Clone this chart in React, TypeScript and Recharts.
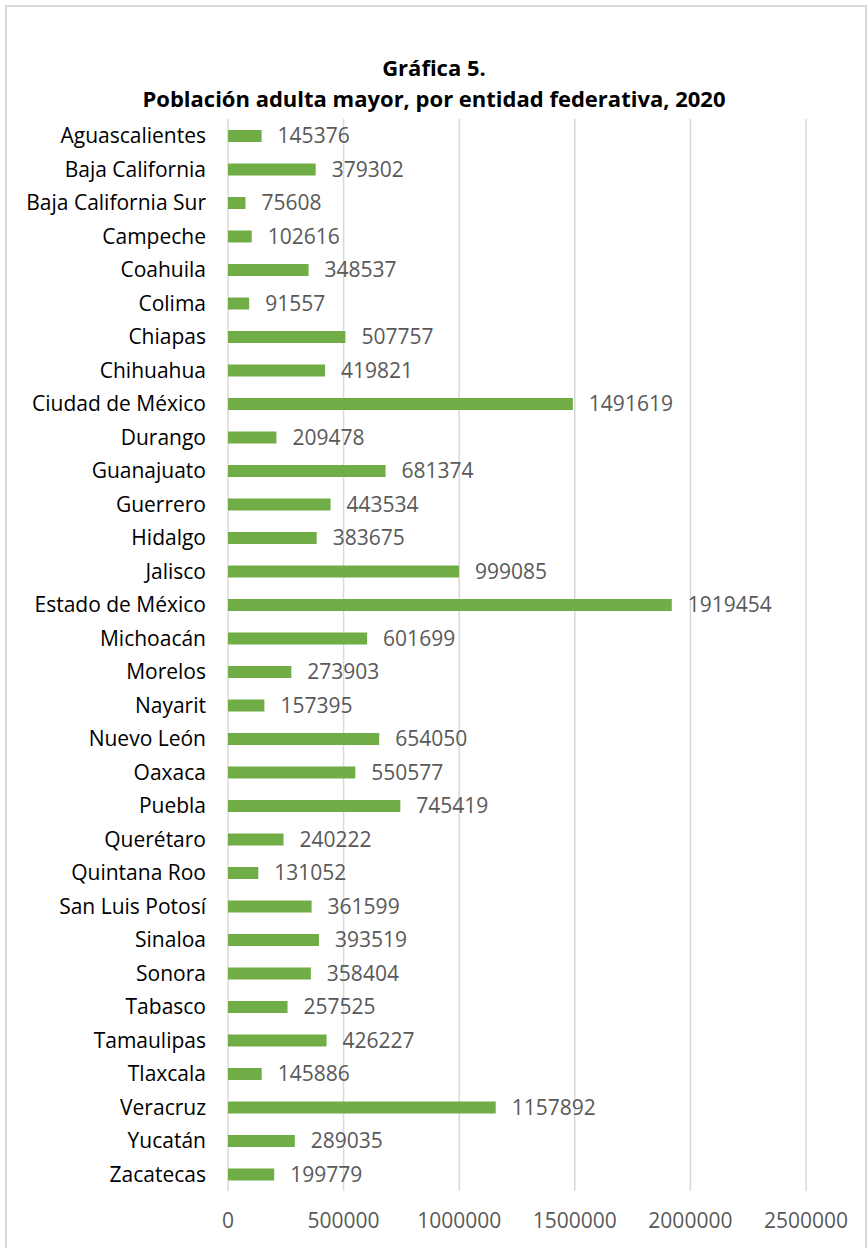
import React from "react";
import { BarChart, Bar, XAxis, YAxis, CartesianGrid, LabelList } from "recharts";

const ENTIDADES = [
  "Aguascalientes",
  "Baja California",
  "Baja California Sur",
  "Campeche",
  "Coahuila",
  "Colima",
  "Chiapas",
  "Chihuahua",
  "Ciudad de México",
  "Durango",
  "Guanajuato",
  "Guerrero",
  "Hidalgo",
  "Jalisco",
  "Estado de México",
  "Michoacán",
  "Morelos",
  "Nayarit",
  "Nuevo León",
  "Oaxaca",
  "Puebla",
  "Querétaro",
  "Quintana Roo",
  "San Luis Potosí",
  "Sinaloa",
  "Sonora",
  "Tabasco",
  "Tamaulipas",
  "Tlaxcala",
  "Veracruz",
  "Yucatán",
  "Zacatecas",
];

const POBLACION = [
  145376, 379302, 75608, 102616, 348537, 91557, 507757, 419821, 1491619, 209478,
  681374, 443534, 383675, 999085, 1919454, 601699, 273903, 157395, 654050, 550577,
  745419, 240222, 131052, 361599, 393519, 358404, 257525, 426227, 145886, 1157892,
  289035, 199779,
];

const X_TICKS = [0, 500000, 1000000, 1500000, 2000000, 2500000];

const data = ENTIDADES.map((nombre, i) => ({ nombre, valor: POBLACION[i] }));

const FONT = "'Open Sans', 'Noto Sans', sans-serif";
const GREEN = "#70ad47";
const GRAY_TEXT = "#595959";
const GRID = "#d9d9d9";

export default function App() {
  return (
    <div
      style={{
        position: "absolute",
        left: 0,
        top: 0,
        width: 868,
        height: 1248,
        overflow: "hidden",
        background: "#fff",
        fontFamily: FONT,
      }}
    >
      {/* chart frame */}
      <div
        style={{
          position: "absolute",
          left: 5,
          top: 5,
          width: 858,
          height: 1250,
          border: "2px solid #d9d9d9",
        }}
      />
      <div
        style={{
          position: "absolute",
          left: 0,
          top: 52,
          width: 868,
          textAlign: "center",
          fontWeight: 700,
          fontSize: 22,
          lineHeight: "31px",
          color: "#000",
        }}
      >
        <div>Gráfica 5.</div>
        <div>Población adulta mayor, por entidad federativa, 2020</div>
      </div>
      <div style={{ position: "absolute", left: 0, top: 0 }}>
        <BarChart
          width={868}
          height={1248}
          data={data}
          layout="vertical"
          margin={{ top: 119, right: 62, bottom: 27, left: 0 }}
          barCategoryGap={0}
        >
          <CartesianGrid horizontal={false} vertical stroke={GRID} strokeWidth={1.5} />
          <XAxis
            type="number"
            domain={[0, 2500000]}
            ticks={X_TICKS}
            interval={0}
            axisLine={false}
            tickLine={false}
            tickSize={0}
            tickMargin={22}
            height={30}
            tick={{ fontSize: 21, fill: GRAY_TEXT, fontFamily: FONT }}
          />
          <YAxis
            type="category"
            dataKey="nombre"
            width={228}
            interval={0}
            axisLine={false}
            tickLine={false}
            tickSize={0}
            tickMargin={22}
            tick={{ fontSize: 21, fill: "#000", fontFamily: FONT }}
          />
          <Bar dataKey="valor" fill={GREEN} barSize={12} isAnimationActive={false}>
            <LabelList
              dataKey="valor"
              position="right"
              offset={16}
              fill={GRAY_TEXT}
              fontSize={21}
              fontFamily={FONT}
            />
          </Bar>
        </BarChart>
      </div>
    </div>
  );
}
